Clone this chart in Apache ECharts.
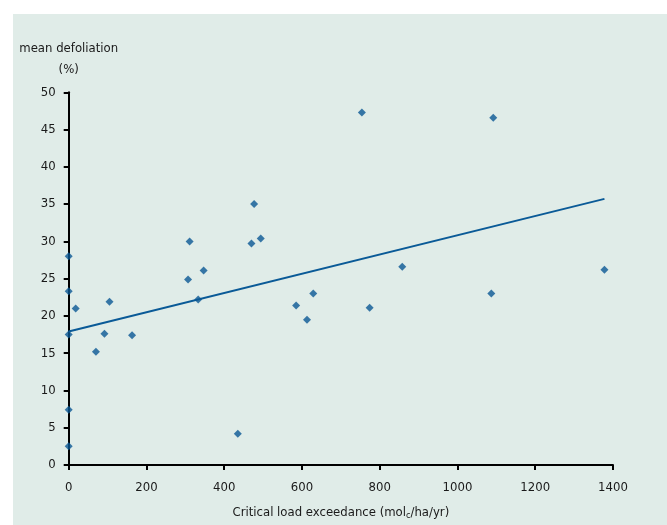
<!DOCTYPE html>
<html><head><meta charset="utf-8">
<script src="https://cdn.jsdelivr.net/npm/echarts@6/dist/echarts.min.js"></script>
<style>html,body{margin:0;padding:0;background:#fff}#c{width:667px;height:525px}</style>
</head><body><div id="c"></div>
<script>
// Critical load exceedance (mol_c/ha/yr)
const exceedance = [0, 0, 0, 0, 0, 18, 70, 92, 105, 163, 307, 311, 333, 347, 435, 470, 477, 494, 585, 613, 629, 754, 774, 858, 1087, 1092, 1378];
// mean defoliation (%)
const defoliation = [28.0, 23.3, 17.5, 7.4, 2.5, 21.0, 15.2, 17.6, 21.9, 17.4, 24.9, 30.0, 22.2, 26.1, 4.2, 29.7, 35.0, 30.4, 21.4, 19.5, 23.0, 47.3, 21.1, 26.6, 23.0, 46.6, 26.2];
// linear trend line end points
const trendX = [0, 1378];
const trendY = [17.9, 35.7];
const xTicks = [0, 200, 400, 600, 800, 1000, 1200, 1400];
const yTicks = [0, 5, 10, 15, 20, 25, 30, 35, 40, 45, 50];

const font = "'DejaVu Sans Condensed','Liberation Sans Narrow',sans-serif";
const chart = echarts.init(document.getElementById('c'), null, {renderer: 'canvas'});
chart.setOption({
  animation: false,
  backgroundColor: '#ffffff',
  graphic: [{type: 'rect', shape: {x: 13, y: 14, width: 654, height: 511}, style: {fill: '#e0ece8'}, z: -10}],
  grid: {left: 68.7, right: 54, top: 92.3, bottom: 58.3},
  xAxis: {
    type: 'value', min: xTicks[0], max: xTicks[xTicks.length - 1], interval: 200,
    splitLine: {show: false},
    axisLine: {lineStyle: {color: '#000', width: 2}},
    axisTick: {show: true, length: 5, lineStyle: {color: '#000', width: 2}},
    axisLabel: {color: '#1a1a1a', fontFamily: font, fontSize: 13, margin: 16, formatter: v => String(v)},
    name: '{a|Critical load exceedance (mol}{s|c}{a|/ha/yr)}',
    nameLocation: 'middle', nameGap: 40,
    nameTextStyle: {rich: {a: {fontFamily: font, fontSize: 13, color: '#1a1a1a'}, s: {fontFamily: font, fontSize: 9, color: '#1a1a1a', verticalAlign: 'bottom', padding: [6, 0, 0, 0]}}}
  },
  yAxis: {
    type: 'value', min: yTicks[0], max: yTicks[yTicks.length - 1], interval: 5,
    splitLine: {show: false},
    axisLine: {show: true, lineStyle: {color: '#000', width: 2}},
    axisTick: {show: true, length: 5, lineStyle: {color: '#000', width: 2}},
    axisLabel: {color: '#1a1a1a', fontFamily: font, fontSize: 13, margin: 13},
    name: 'mean defoliation\n(%)', nameLocation: 'end', nameGap: 12,
    nameTextStyle: {fontFamily: font, fontSize: 13, color: '#1a1a1a', align: 'center', verticalAlign: 'bottom', lineHeight: 21}
  },
  series: [
    {type: 'line', data: trendX.map((x, i) => [x, trendY[i]]), showSymbol: false, symbol: 'none',
     lineStyle: {color: '#0a5a97', width: 2}, z: 2},
    {type: 'scatter', data: exceedance.map((x, i) => [x, defoliation[i]]), symbol: 'diamond', symbolSize: 8,
     itemStyle: {color: '#0a5893'}, z: 3}
  ]
});
</script></body></html>
